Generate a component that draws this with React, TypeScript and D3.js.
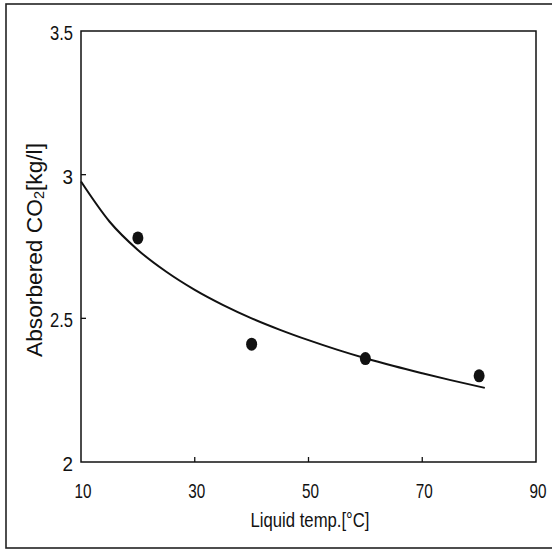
import React from "react";
import * as d3 from "d3";

const pointTemps = [20, 40, 60, 80];
const pointCO2 = [2.78, 2.41, 2.36, 2.3];

const curveTemps = [10, 15, 20, 25, 30, 35, 40, 45, 50, 55, 60, 65, 70, 75, 81];
const curveCO2 = [2.976, 2.837, 2.738, 2.662, 2.599, 2.546, 2.5, 2.46, 2.424, 2.391, 2.361, 2.334, 2.309, 2.285, 2.258];

const xTicks = [10, 30, 50, 70, 90];
const xTickLabels = ["10", "30", "50", "70", "90"];
const yTicks = [2, 2.5, 3, 3.5];
const yTickLabels = ["2", "2.5", "3", "3.5"];

const W = 552;
const H = 551;
const FONT = "'Liberation Sans', Arial, sans-serif";

// condensed width of a numeric label
const labelWidth = (s: string) =>
  s.split("").reduce((acc, c) => acc + (c === "." ? 4 : 8.5), 0);

export default function App() {
  const x = d3.scaleLinear().domain([10, 90]).range([81, 536]);
  const y = d3.scaleLinear().domain([2, 3.5]).range([462, 31]);

  const line = d3
    .line<number>()
    .x((_, i) => x(curveTemps[i]))
    .y((d) => y(d))
    .curve(d3.curveMonotoneX);

  return (
    <svg
      width={W}
      height={H}
      style={{ position: "absolute", left: 0, top: 0, background: "#fff" }}
    >
      <rect x={0} y={0} width={W} height={H} fill="#fff" />
      {/* outer frame */}
      <rect x={6} y={4} width={550} height={544} fill="none" stroke="#222" strokeWidth={1.6} />
      {/* plot box */}
      <rect
        x={x(10)}
        y={y(3.5)}
        width={x(90) - x(10)}
        height={y(2) - y(3.5)}
        fill="none"
        stroke="#111"
        strokeWidth={1.5}
      />
      {/* x ticks (inward) */}
      {xTicks.slice(1, -1).map((t) => (
        <line key={"xt" + t} x1={x(t)} x2={x(t)} y1={y(2)} y2={y(2) - 5} stroke="#111" strokeWidth={1.3} />
      ))}
      {/* y ticks (inward) */}
      {yTicks.slice(1, -1).map((t) => (
        <line key={"yt" + t} x1={x(10)} x2={x(10) + 5} y1={y(t)} y2={y(t)} stroke="#111" strokeWidth={1.3} />
      ))}
      {/* x tick labels */}
      {xTicks.map((t, i) => (
        <text
          key={"xl" + t}
          x={x(t) + 2}
          y={498}
          textAnchor="middle"
          fontFamily={FONT}
          fontSize={21}
          textLength={labelWidth(xTickLabels[i])}
          lengthAdjust="spacingAndGlyphs"
          fill="#111"
        >
          {xTickLabels[i]}
        </text>
      ))}
      {/* y tick labels */}
      {yTicks.map((t, i) => (
        <text
          key={"yl" + t}
          x={73}
          y={y(t) + 9}
          textAnchor="end"
          fontFamily={FONT}
          fontSize={20}
          textLength={labelWidth(yTickLabels[i]) + 2}
          lengthAdjust="spacingAndGlyphs"
          fill="#111"
        >
          {yTickLabels[i]}
        </text>
      ))}
      {/* axis titles */}
      <text
        x={310}
        y={527}
        textAnchor="middle"
        fontFamily={FONT}
        fontSize={21}
        textLength={119}
        lengthAdjust="spacingAndGlyphs"
        fill="#111"
      >
        Liquid temp.[°C]
      </text>
      <text
        transform="translate(42,250) rotate(-90)"
        textAnchor="middle"
        fontFamily={FONT}
        fontSize={22}
        textLength={214}
        lengthAdjust="spacingAndGlyphs"
        fill="#111"
      >
        Absorbered CO
        <tspan fontSize={14} dy={2}>2</tspan>
        <tspan dy={-2}>[kg/l]</tspan>
      </text>
      {/* fitted curve */}
      <path d={line(curveCO2) || ""} fill="none" stroke="#111" strokeWidth={2} />
      {/* data points */}
      {pointTemps.map((t, i) => (
        <ellipse key={"p" + t} cx={x(t)} cy={y(pointCO2[i])} rx={5.5} ry={6.5} fill="#111" />
      ))}
    </svg>
  );
}
